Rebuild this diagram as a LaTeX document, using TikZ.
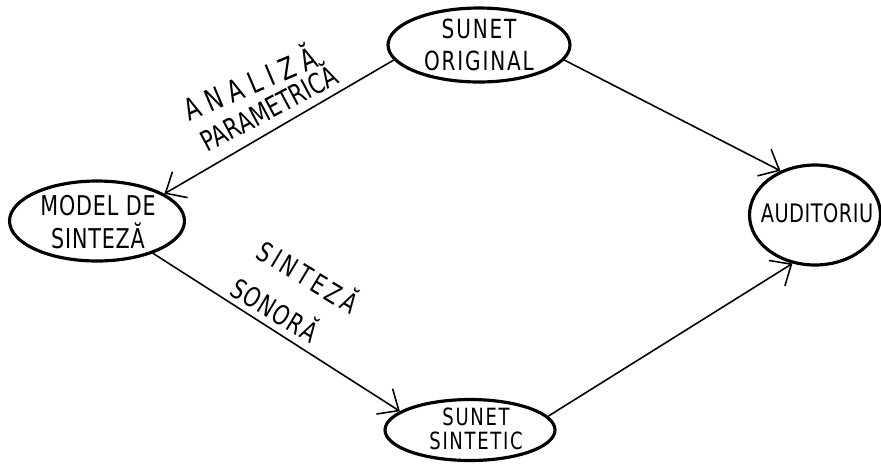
\documentclass[tikz,border=0pt]{standalone}
\usepackage{fontspec}
\setmainfont{DejaVu Sans}
\newfontfamily\handn{DejaVu Sans}[FakeStretch=0.76]
\usetikzlibrary{shapes.geometric,arrows.meta}
\newcommand{\handnsize}[2]{\handn\fontsize{#1}{#2}\selectfont}
\tikzset{
  blob/.style={ellipse, draw, line width=1.8pt, inner sep=0pt},
  txt/.style={align=center, inner sep=0pt},
  arr/.style={line width=0.9pt, -{Straight Barb[length=3.4mm,width=6mm,line width=0.9pt]}},
  lbl/.style={inner sep=0pt}
}
\begin{document}
\begin{tikzpicture}[x=0.02cm,y=-0.02cm]
\useasboundingbox (0,0) rectangle (881,468);
\node[blob, minimum width=3.64cm, minimum height=1.48cm] (orig) at (479,45) {};
\node[txt, font={\handnsize{15}{18}\addfontfeature{LetterSpace=7}}] (origt) at (479,45) {SUNET\\ORIGINAL};
\node[blob, minimum width=3.5cm, minimum height=1.6cm] (model) at (97,221) {};
\node[txt, font={\handnsize{15.5}{18.5}\addfontfeature{LetterSpace=3}}] (modelt) at (98,222) {MODEL DE\\SINTEZĂ};
\node[blob, minimum width=2.62cm, minimum height=2cm] (aud) at (815,215) {};
\node[txt, font={\handnsize{14.5}{16}\addfontfeature{LetterSpace=2}}] (audt) at (817,213) {AUDITORIU};
\node[blob, minimum width=3.4cm, minimum height=1.22cm] (sint) at (470,430) {};
\node[txt, font={\handnsize{13.5}{14}\addfontfeature{LetterSpace=7}}] (sintt) at (476,429) {SUNET\\SINTETIC};
\draw[arr] (orig.190) -- (model.22);
\draw[arr] (orig.350) -- (aud.128);
\draw[arr] (model.330) -- (sint.165);
\draw[arr] (sint.10) -- (aud.245);
\node[lbl, rotate=23, font={\handnsize{17}{18}\addfontfeature{LetterSpace=24}}] (l1) at (249,81) {ANALIZĂ};
\node[lbl, rotate=28, font={\handnsize{16}{18}}] (l2) at (268,106) {PARAMETRICĂ};
\node[lbl, rotate=-31, font={\handnsize{15.5}{18}\addfontfeature{LetterSpace=14}}] (l3) at (309,275) {SINTEZĂ};
\node[lbl, rotate=-31, font={\handnsize{15.5}{18}\addfontfeature{LetterSpace=4}}] (l4) at (276,308) {SONORĂ};
\end{tikzpicture}
\end{document}
